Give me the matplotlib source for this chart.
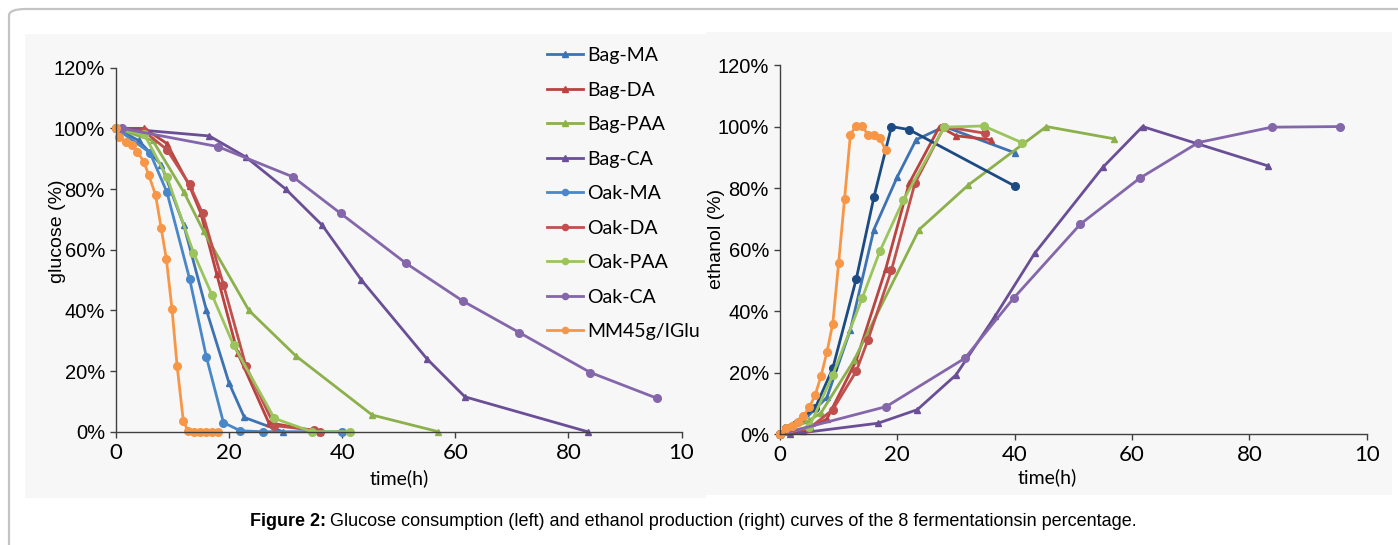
import matplotlib
matplotlib.use("Agg")
import matplotlib.pyplot as plt
from matplotlib.patches import Rectangle, FancyBboxPatch
from matplotlib.ticker import FuncFormatter

# ---- glucose consumption (left), time in h / remaining glucose in %
glu_bag_ma_t = [0, 4, 8, 12, 16, 20, 22.7, 29.5]
glu_bag_ma = [100, 96, 88, 68, 40, 16, 4.7, 0]
glu_bag_da_t = [0, 5, 9, 13, 15, 17.8, 21.5, 27, 36]
glu_bag_da = [100, 100, 95, 81, 72, 52, 26, 3, 0]
glu_bag_paa_t = [0, 6.5, 12, 15.5, 23.5, 31.8, 45.3, 57]
glu_bag_paa = [100, 96, 79, 66, 40, 25, 5.5, 0]
glu_bag_ca_t = [1, 16.5, 23, 30, 36.5, 43.4, 55, 61.7, 83.4]
glu_bag_ca = [100, 97.5, 90.5, 80, 68, 50, 24, 11.5, 0]
glu_oak_ma_t = [0, 6, 9, 13, 16, 19, 22, 26, 40]
glu_oak_ma = [100, 92, 79, 50.5, 24.5, 3, 0.3, 0, 0]
glu_oak_da_t = [0, 5, 9, 13, 15.3, 19, 23, 28, 35, 36]
glu_oak_da = [100, 99, 93, 81.5, 72, 48.5, 21.5, 2, 0.5, 0]
glu_oak_paa_t = [0, 5, 9, 13.7, 17, 20.8, 28, 34.6, 41.3]
glu_oak_paa = [100, 98, 84, 59, 45, 28.5, 4.4, 0, 0]
glu_oak_ca_t = [1, 18, 31.3, 39.7, 51.3, 61.4, 71.3, 83.9, 95.7]
glu_oak_ca = [100, 94, 84, 72, 55.5, 43, 32.7, 19.5, 11]
glu_mm_t = [0, 0.6, 1.8, 2.8, 3.8, 4.9, 5.8, 7, 8, 8.9, 9.9, 10.8, 11.9, 12.7,
            13.8, 14.8, 15.9, 17, 18]
glu_mm = [100, 97, 95.5, 94.5, 92.3, 89, 84.6, 78, 67, 57, 40.5, 21.8, 3.6, 0.3,
          0, 0, 0, 0, 0]

# ---- ethanol production (right), % of maximum
eth_bag_ma_t = [0, 4, 8, 12, 16, 20, 23.2, 28, 40]
eth_bag_ma = [0, 4.5, 12, 34, 66.5, 83.7, 95.7, 100, 91.5]
eth_bag_da_t = [0, 4, 8, 13, 18, 22, 27.2, 30, 36]
eth_bag_da = [0, 1, 5, 24, 53.6, 81.5, 100, 97, 95.7]
eth_bag_paa_t = [0, 5, 7, 12.6, 23.7, 32.1, 45.4, 57]
eth_bag_paa = [0, 4.5, 7, 24, 66.5, 81, 100, 96]
eth_bag_ca_t = [0, 1.7, 16.7, 23.4, 30, 36.7, 43.4, 55, 61.8, 83.2]
eth_bag_ca = [0, 0, 3.6, 8, 19.3, 38.5, 58.8, 86.7, 100, 87.2]
eth_oak_ma_t = [0, 1, 6, 9, 13, 16, 19, 22, 40]
eth_oak_ma = [0, 2, 8.5, 21.5, 50.5, 77, 100, 99, 80.7]
eth_oak_da_t = [0, 5, 9, 13, 15, 19, 23, 28, 35]
eth_oak_da = [0, 2, 8, 20.5, 30.7, 53.4, 81.6, 100, 97.8]
eth_oak_paa_t = [0, 5, 9, 14, 17, 21, 28, 34.7, 41.2]
eth_oak_paa = [0, 2.5, 19.3, 44.2, 59.4, 76, 99.8, 100.2, 94.8]
eth_oak_ca_t = [0, 18.1, 31.5, 39.8, 51.2, 61.3, 71.3, 83.8, 95.5]
eth_oak_ca = [0, 9, 24.7, 44.2, 68.3, 83.2, 94.8, 99.8, 100]
eth_mm_t = [0, 1, 2, 3, 4, 5, 6, 7, 8, 9, 10, 11, 12, 12.9, 14, 15, 16, 17, 18]
eth_mm = [0, 2, 2.7, 4.1, 6, 8.8, 12.8, 19, 26.7, 36, 55.8, 76.4, 97.3, 100.2,
          100.2, 97.3, 97.3, 96.2, 92.4]

labels = ["Bag-MA", "Bag-DA", "Bag-PAA", "Bag-CA", "Oak-MA", "Oak-DA",
          "Oak-PAA", "Oak-CA", "MM45g/IGlu"]
colors = ["#3d72b3", "#b8433f", "#8cb04c", "#6a4f96", "#4a87c8", "#c0504d",
          "#9bc45c", "#8466ab", "#f79646"]
markers = ["^", "^", "^", "^", "o", "o", "o", "o", "o"]

glucose = [(glu_bag_ma_t, glu_bag_ma), (glu_bag_da_t, glu_bag_da),
           (glu_bag_paa_t, glu_bag_paa), (glu_bag_ca_t, glu_bag_ca),
           (glu_oak_ma_t, glu_oak_ma), (glu_oak_da_t, glu_oak_da),
           (glu_oak_paa_t, glu_oak_paa), (glu_oak_ca_t, glu_oak_ca),
           (glu_mm_t, glu_mm)]
ethanol = [(eth_bag_ma_t, eth_bag_ma), (eth_bag_da_t, eth_bag_da),
           (eth_bag_paa_t, eth_bag_paa), (eth_bag_ca_t, eth_bag_ca),
           (eth_oak_ma_t, eth_oak_ma), (eth_oak_da_t, eth_oak_da),
           (eth_oak_paa_t, eth_oak_paa), (eth_oak_ca_t, eth_oak_ca),
           (eth_mm_t, eth_mm)]
# the ethanol plot draws Oak-MA in a darker navy
eth_colors = list(colors)
eth_colors[4] = "#1c4a82"

x_ticks = [0, 20, 40, 60, 80, 100]
x_ticklabels = ["0", "20", "40", "60", "80", "10"]
y_ticks = [0, 20, 40, 60, 80, 100, 120]

W, H = 1398, 545
fig = plt.figure(figsize=(W / 100, H / 100), dpi=100)
fig.patch.set_facecolor("white")


def px(x0, y0, x1, y1):
    # figure rect from pixel box (top-left origin)
    return [x0 / W, 1 - y1 / H, (x1 - x0) / W, (y1 - y0) / H]


# outer frame and grey panels, kept behind the axes
fig.patches.append(FancyBboxPatch((9 / W, -0.1), 1.2, 1 - 9 / H + 0.1,
                                  boxstyle="round,pad=0,rounding_size=0.012",
                                  transform=fig.transFigure, fill=False,
                                  edgecolor="#c4c4c4", linewidth=1.6, zorder=-5))
fig.patches.append(Rectangle((25 / W, 1 - 498 / H), (706 - 25) / W, (498 - 34) / H,
                             transform=fig.transFigure, facecolor="#f7f7f7",
                             edgecolor="none", zorder=-5))
fig.patches.append(Rectangle((706 / W, 1 - 495 / H), (1392 - 706) / W, (495 - 32) / H,
                             transform=fig.transFigure, facecolor="#f7f7f7",
                             edgecolor="none", zorder=-5))

ax1 = fig.add_axes(px(116, 67.7, 681.5, 431.7))
ax2 = fig.add_axes(px(780, 65, 1366.7, 434.3))

for ax, data, cols, ylab in [(ax1, glucose, colors, "glucose (%)"),
                             (ax2, ethanol, eth_colors, "ethanol (%)")]:
    ax.set_facecolor("none")
    for (t, v), lab, c, m in zip(data, labels, cols, markers):
        ax.plot(t, v, color=c, lw=2.0, marker=m, ms=5.5 if m == "o" else 5,
                label=lab, clip_on=False, solid_joinstyle="round")
    ax.set_xlim(0, 100)
    ax.set_ylim(0, 120)
    ax.set_xticks(x_ticks)
    ax.set_xticklabels(x_ticklabels, family="Lato", fontsize=16)
    ax.set_yticks(y_ticks)
    ax.yaxis.set_major_formatter(FuncFormatter(lambda v, p: f"{v:.0f}%"))
    for lbl in ax.get_yticklabels():
        lbl.set_family("Liberation Sans")
        lbl.set_fontsize(14.5)
    ax.tick_params(direction="out", length=4, width=1, color="#404040", pad=4)
    for s in ["top", "right"]:
        ax.spines[s].set_visible(False)
    for s in ["left", "bottom"]:
        ax.spines[s].set_color("#404040")
        ax.spines[s].set_linewidth(1)
    ax.set_ylabel(ylab, family="Liberation Sans", fontsize=14)
    ax.set_xlabel("time(h)", family="Lato", fontsize=14)

# the y titles overlap the tick labels in the original
ax1.yaxis.set_label_coords(-0.088, 0.55)
ax1.xaxis.set_label_coords(0.5, -0.104)
ax2.yaxis.set_label_coords(-0.094, 0.53)
ax2.xaxis.set_label_coords(0.456, -0.091)

leg = ax1.legend(loc="upper left", bbox_to_anchor=(547 / W, 1 - 47 / H),
                 bbox_transform=fig.transFigure, frameon=False,
                 prop={"family": "Lato", "size": 14}, handlelength=1.85,
                 handletextpad=0.2, labelspacing=0.9, borderpad=0,
                 borderaxespad=0, markerscale=0.8)

# caption with bold lead-in
fig.canvas.draw()
cap1 = fig.text(250 / W, 1 - 521 / H, "Figure 2:", family="Liberation Sans",
                weight="bold", fontsize=13, va="center", ha="left")
bb = cap1.get_window_extent(fig.canvas.get_renderer())
fig.text((bb.x1 + 4) / W, 1 - 521 / H,
         "Glucose consumption (left) and ethanol production (right) curves of the 8 fermentationsin percentage.",
         family="Liberation Sans", fontsize=13, va="center", ha="left")

fig.savefig("out.png", dpi=100, facecolor=fig.get_facecolor())
